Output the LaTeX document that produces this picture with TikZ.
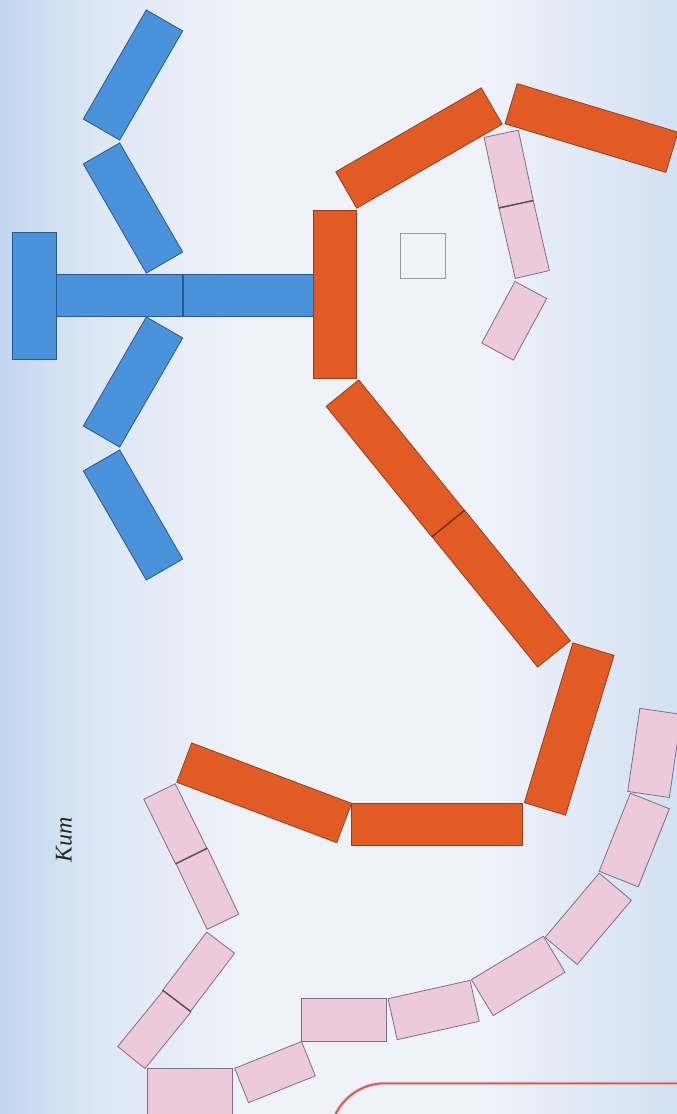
\documentclass[tikz,border=0pt]{standalone}
\usepackage{fontspec}
\newfontfamily\cyr{Liberation Serif}
\definecolor{bgL}{RGB}{194,213,238}
\definecolor{bgA}{RGB}{221,231,245}
\definecolor{bgW}{RGB}{239,242,249}
\definecolor{bgR}{RGB}{210,224,242}
\definecolor{bluF}{RGB}{74,146,218}
\definecolor{bluD}{RGB}{38,88,150}
\definecolor{orF}{RGB}{226,90,36}
\definecolor{orD}{RGB}{150,62,30}
\definecolor{pkF}{RGB}{236,202,220}
\definecolor{pkD}{RGB}{128,110,135}
\definecolor{frameC}{RGB}{205,90,80}
\pgfdeclarehorizontalshading{bgsh}{100bp}{color(0bp)=(bgL); color(25bp)=(bgL); color(32bp)=(bgA); color(43bp)=(bgW); color(61bp)=(bgW); color(75bp)=(bgR); color(100bp)=(bgR)}
\tikzset{
  tile/.style={rectangle, inner sep=0pt, outer sep=0pt, line width=0.8pt},
  blu/.style={tile, fill=bluF, draw=bluD, minimum width=126pt, minimum height=42pt},
  ora/.style={tile, fill=orF, draw=orD, minimum width=168pt, minimum height=42pt},
  pks/.style={tile, fill=pkF, draw=pkD, minimum width=72pt, minimum height=35pt},
  pkb/.style={tile, fill=pkF, draw=pkD, minimum width=84pt, minimum height=42pt},
  divline/.style={line width=1.4pt},
}
\begin{document}
\begin{tikzpicture}[x=1pt,y=-1pt]
\useasboundingbox (0,0) rectangle (677,1114);
\clip (0,0) rectangle (677,1114);
\shade[shading=bgsh] (0,0) rectangle (677,1114);
% blue figure
\node[blu, rotate=60] (b1) at (133,75) {};
\node[blu, rotate=-60] (b2) at (133,208) {};
\node[blu, rotate=60] (b3) at (133,382) {};
\node[blu, rotate=-60] (b4) at (133,515) {};
\node[blu, minimum width=127pt, minimum height=44pt, rotate=90] (bt) at (34.2,295.5) {};
\node[blu, minimum width=127pt] (s1) at (119.5,295) {};
\node[blu, minimum width=130pt] (s2) at (248,295) {};
\draw[divline, draw=bluD] (s1.north east) -- (s1.south east);
% orange chain
\node[ora, rotate=90, minimum height=43pt] (o1) at (335,294) {};
\node[ora, rotate=30] (o2) at (419,148) {};
\node[ora, rotate=-16.8] (o3) at (591.5,128) {};
\node[ora, rotate=-51] (o4a) at (395.3,458.4) {};
\node[ora, rotate=-51] (o4b) at (501.1,588.6) {};
\draw[divline, draw=orD!80!black] (o4a.north east) -- (o4a.south east);
\node[ora, rotate=73.1, minimum width=167pt, minimum height=43pt] (o5) at (569.2,729) {};
\node[ora, minimum width=171pt] (o6) at (437.2,824.2) {};
\node[ora, rotate=-20.7, minimum width=171pt] (o7) at (264.2,792.8) {};
% small square
\node[tile, draw=gray!80, line width=0.9pt, minimum width=45pt, minimum height=45pt] (sq) at (422.5,255.8) {};
% pink top
\node[pks, rotate=-78] (p1) at (508.7,169) {};
\node[pks, rotate=-77] (p2) at (524.2,239.4) {};
\draw[divline, draw=pkD!70!black] (p1.north east) -- (p1.south east);
\node[pks, rotate=61.6, minimum width=70pt, minimum height=36pt] (p3) at (514.2,320.8) {};
% pink bottom curve
\node[pkb, rotate=81.7] (q1) at (654.6,752.9) {};
\node[pkb, rotate=68.2] (q2) at (634.3,840) {};
\node[pkb, rotate=49.8] (q3) at (588.2,918.8) {};
\node[pkb, rotate=31.1] (q4) at (518.2,975.9) {};
\node[pkb, rotate=12.6] (q5) at (433.6,1010) {};
\node[pkb, minimum width=85pt, minimum height=43pt] (q6) at (344.3,1020) {};
\node[pks, rotate=21.9, minimum height=37pt] (q7) at (275,1072.1) {};
\node[pkb, minimum width=85pt, minimum height=48pt] (q8) at (190.3,1092.3) {};
\node[pks, rotate=50.9, minimum width=73pt] (q9) at (154.4,1029.2) {};
\node[pks, rotate=52.8, minimum width=73pt] (q10) at (198.6,971.7) {};
\draw[divline, draw=pkD!70!black] (q10.north west) -- (q10.south west);
\node[pks, rotate=-64.6, minimum width=73pt] (q11) at (207.3,888.8) {};
\node[pks, rotate=-63.8] (q12) at (175.4,823.8) {};
\draw[divline, draw=pkD!70!black] (q12.north east) -- (q12.south east);
% label
\node[rotate=90, inner sep=0pt, text=black!85, font=\cyr\itshape\fontsize{24}{24}\selectfont] (kit) at (64,840) {Кит};
% frame corner
\coordinate (fa) at (330,1200);
\coordinate (fb) at (330,1083.3);
\coordinate (fc) at (700,1083.3);
\draw[frameC!40, line width=3.5pt, rounded corners=55pt] (fa) -- (fb) -- (fc);
\draw[frameC, line width=1.6pt, rounded corners=55pt] (fa) -- (fb) -- (fc);
\end{tikzpicture}
\end{document}
